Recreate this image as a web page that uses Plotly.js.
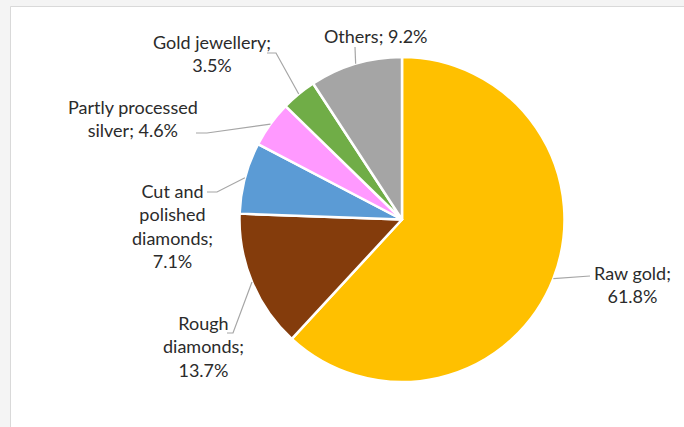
<!DOCTYPE html>
<html>
<head>
<meta charset="utf-8">
<script src="https://cdn.plot.ly/plotly-3.0.1.min.js"></script>
<style>html,body{margin:0;padding:0;background:#f4f4f4;}#chart{width:684px;height:427px;}</style>
</head>
<body>
<div id="chart"></div>
<script>
// ---- data ----
const categories = ['Raw gold', 'Rough diamonds', 'Cut and polished diamonds', 'Partly processed silver', 'Gold jewellery', 'Others'];
const values = [61.8, 13.7, 7.1, 4.6, 3.5, 9.2];
const colors = ['#FFC000', '#843C0C', '#5B9BD5', '#FF99FF', '#70AD47', '#A5A5A5'];
// how each category name is wrapped in its label
const nameLines = [['Raw gold'], ['Rough', 'diamonds'], ['Cut and', 'polished', 'diamonds'], ['Partly processed', 'silver'], ['Gold jewellery'], ['Others']];
const valueOnSameLine = [false, false, false, true, false, true];

// ---- layout (pixels) ----
const W = 684, H = 427;
const cx = 402, cy = 219.5, R = 162.5;
const labelPos = [[632, 284], [203, 346], [172, 226], [133, 119], [212, 53], [376, 36]];
const leaderStart = [[590, 276], [227, 333], [207, 192], [196, 133], [267, 53], [355, 47]];
const leaderElbow = [[590, 276], [233, 333], [217, 192], [207, 133], [276, 53], [355, 47]];

const px = x => x / W;
const py = y => 1 - y / H;

const total = values.reduce((a, b) => a + b, 0);
const annotations = [];
const shapes = [{
  type: 'rect', xref: 'paper', yref: 'paper', layer: 'below',
  x0: px(10.5), x1: 1.2, y0: -0.2, y1: py(6.5),
  fillcolor: '#ffffff', line: {color: '#d9d9d9', width: 1}
}];
let cum = 0;
values.forEach((v, i) => {
  const mid = (cum + v / 2) / total * 2 * Math.PI;
  cum += v;
  const ex = cx + R * Math.sin(mid), ey = cy - R * Math.cos(mid);
  const lines = nameLines[i].slice();
  const pct = v.toFixed(1) + '%';
  lines[lines.length - 1] += ';';
  if (valueOnSameLine[i]) lines[lines.length - 1] += ' ' + pct; else lines.push(pct);
  annotations.push({
    xref: 'paper', yref: 'paper', x: px(labelPos[i][0]), y: py(labelPos[i][1]),
    xanchor: 'center', yanchor: 'middle', showarrow: false, align: 'center',
    text: lines.join('<br>'),
    font: {family: 'Lato, sans-serif', size: 18, color: '#2b2b2b'}
  });
  const s = leaderStart[i], e = leaderElbow[i];
  shapes.push({
    type: 'path', xref: 'paper', yref: 'paper', layer: 'above',
    path: `M ${px(s[0])},${py(s[1])} L ${px(e[0])},${py(e[1])} L ${px(ex)},${py(ey)}`,
    line: {color: '#a6a6a6', width: 1.2}
  });
});

const trace = {
  type: 'pie', labels: categories, values: values, sort: false,
  direction: 'clockwise', rotation: 0, textinfo: 'none', hoverinfo: 'label+percent',
  marker: {colors: colors, line: {color: '#ffffff', width: 2.5}},
  domain: {x: [px(cx - R), px(cx + R)], y: [py(cy + R), py(cy - R)]}
};

Plotly.newPlot('chart', [trace], {
  width: W, height: H, margin: {l: 0, r: 0, t: 0, b: 0},
  paper_bgcolor: '#f4f4f4', showlegend: false,
  annotations: annotations, shapes: shapes
}, {displayModeBar: false, staticPlot: true});
</script>
</body>
</html>
